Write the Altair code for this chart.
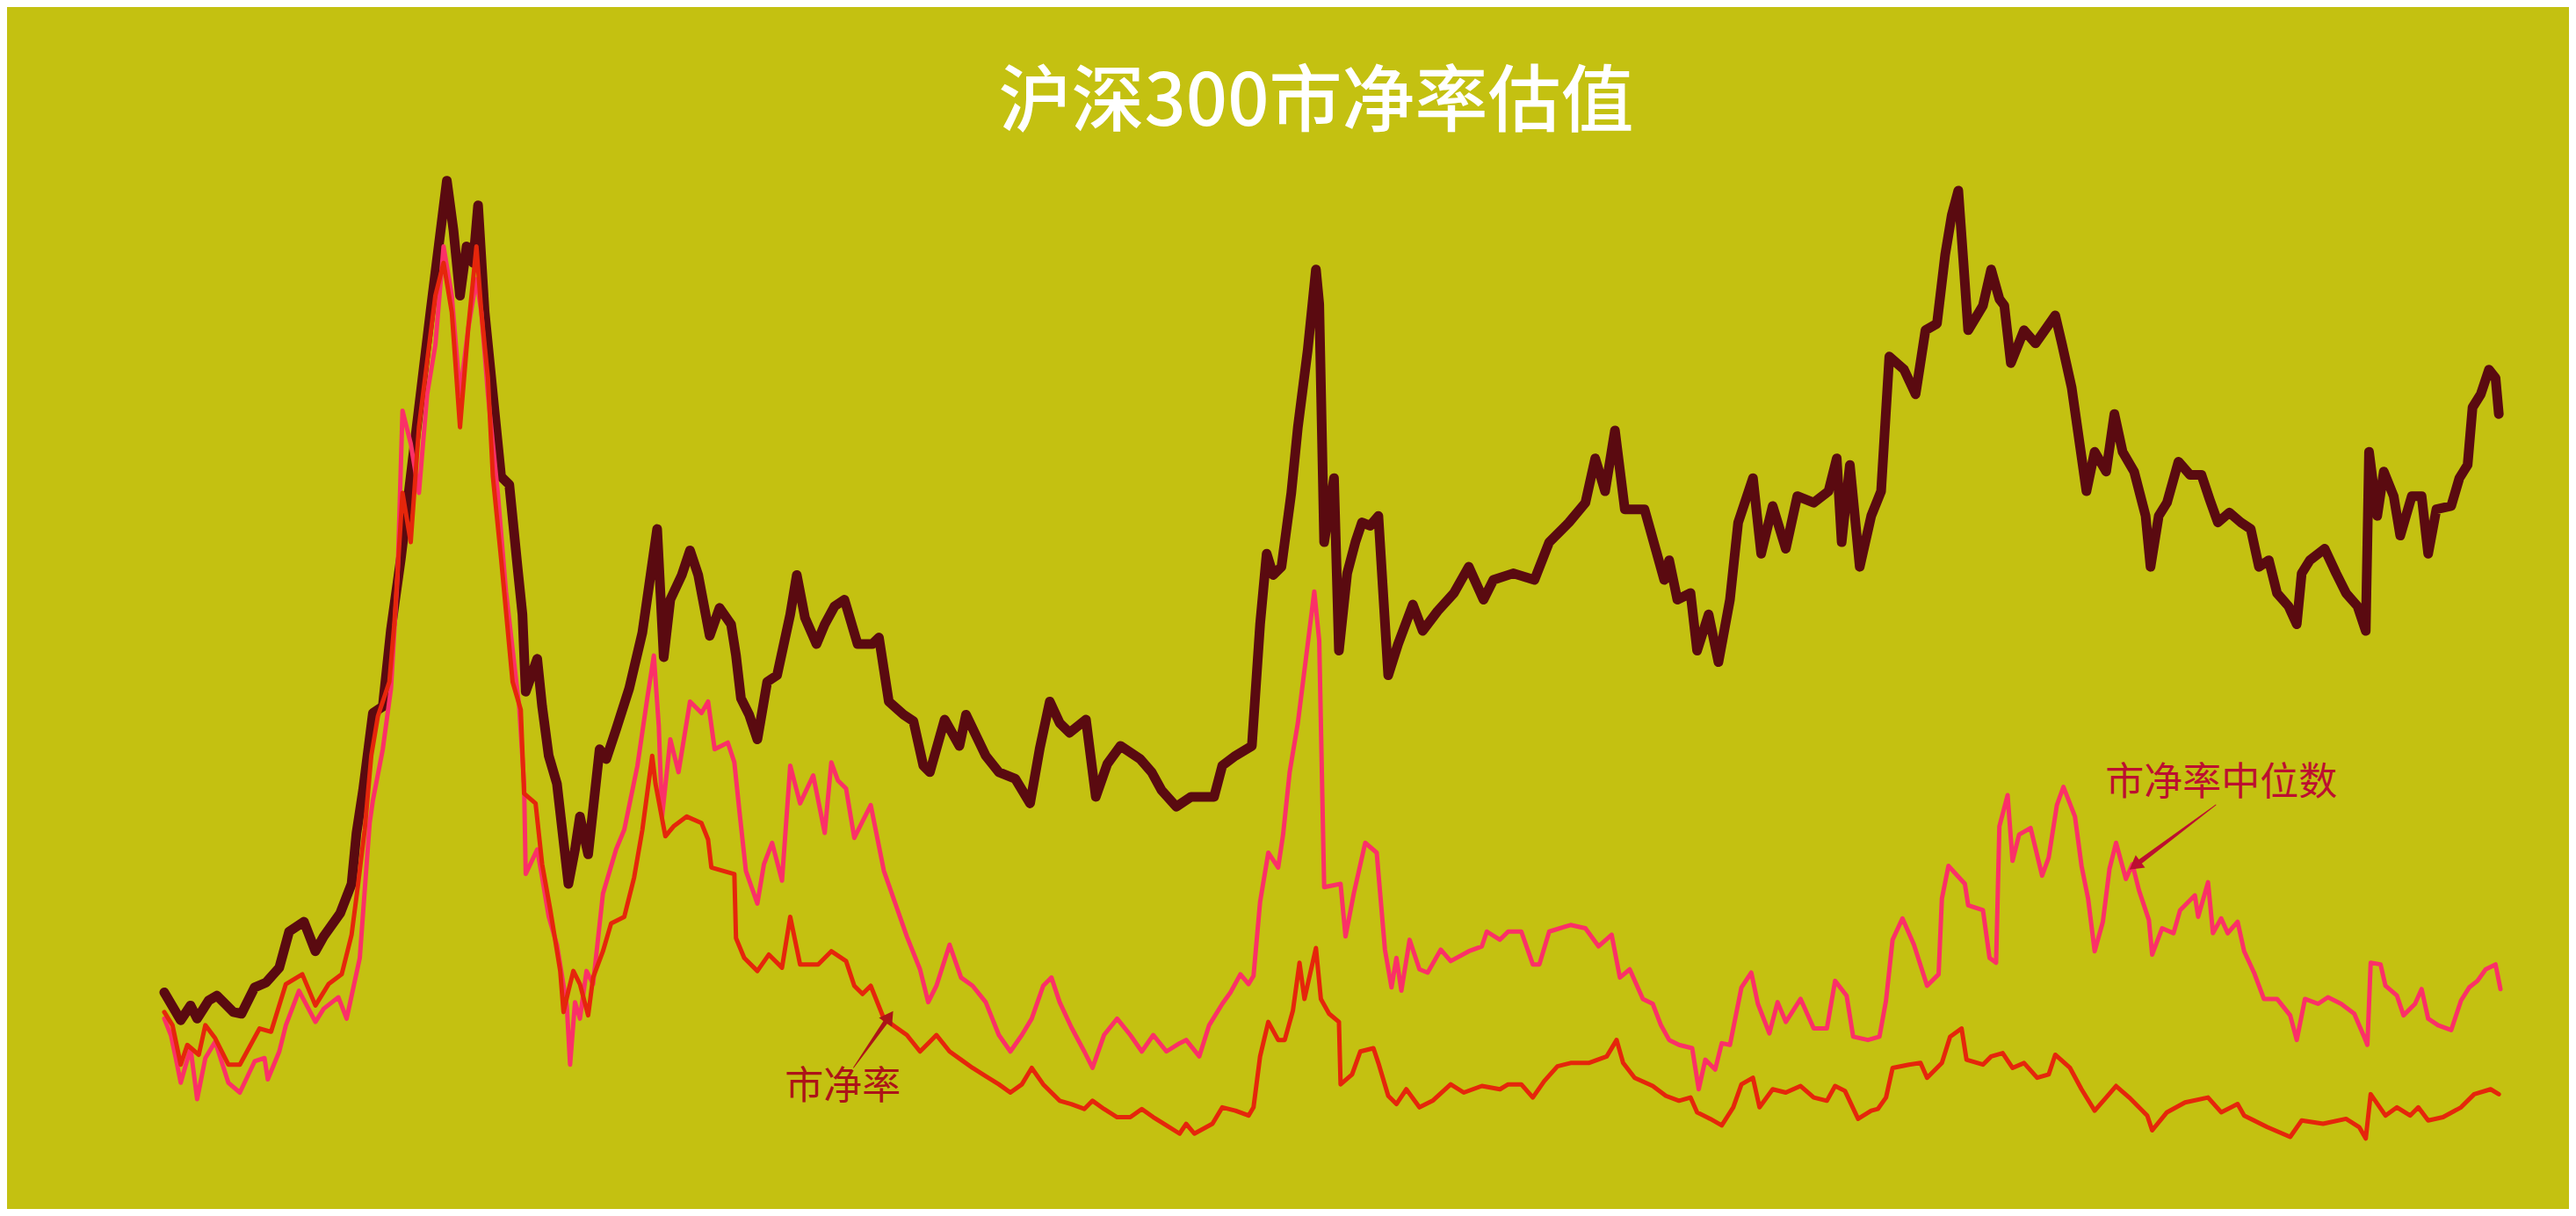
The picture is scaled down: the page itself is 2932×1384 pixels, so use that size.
import altair as alt
import pandas as pd

# ---- data: x = time step, y = screen-row reading (smaller = higher) ----
dark_pts = [(100,604),(110,621),(116,612),(120,620),(127,609),(132,606),(142,616),(147,617),(155,601),(162,598),(170,589),(176,567),(185,561),(192,579),(197,570),(207,556),(214,538),(217,507),(221,481),(227,434),(233,430),(238,383),(244,340),(250,290),(256,240),(262,190),(267,150),(272,110),(276,140),(280,180),(284,150),(288,160),(291,125),(295,190),(300,240),(305,290),(310,295),(315,345),(318,374),(320,421),(327,401),(330,430),(334,460),(339,477),(346,538),(350,517),(353,497),(358,520),(365,456),(369,462),(375,444),(383,419),(391,385),(396,350),(400,322),(404,400),(408,365),(415,350),(420,335),(425,350),(432,387),(438,370),(445,380),(448,399),(451,425),(456,435),(461,450),(467,415),(473,411),(481,374),(485,350),(490,376),(497,392),(502,380),(508,369),(514,365),(522,392),(531,392),(535,388),(541,427),(550,435),(556,439),(562,466),(566,470),(575,438),(584,454),(588,435),(600,460),(608,470),(618,474),(627,489),(633,455),(639,427),(645,440),(651,446),(661,438),(667,485),(674,465),(682,454),(688,458),(694,462),(701,470),(707,481),(716,491),(725,485),(739,485),(744,466),(752,460),(762,454),(767,380),(771,337),(775,350),(780,345),(786,300),(790,260),(796,213),(801,164),(803,185),(806,330),(812,291),(815,396),(820,349),(825,330),(829,318),(834,320),(839,314),(845,411),(851,392),(860,368),(866,384),(875,372),(885,361),(894,345),(903,365),(909,353),(921,349),(934,353),(943,330),(955,318),(965,306),(971,279),(977,299),(983,262),(989,310),(1001,310),(1008,335),(1013,353),(1016,341),(1021,365),(1029,361),(1033,396),(1040,374),(1046,403),(1053,365),(1058,318),(1067,291),(1072,337),(1079,308),(1087,334),(1094,302),(1104,306),(1113,299),(1118,279),(1121,330),(1126,283),(1132,345),(1139,314),(1145,299),(1150,217),(1159,225),(1166,240),(1172,201),(1179,197),(1184,155),(1188,131),(1192,116),(1195,158),(1198,201),(1207,186),(1212,164),(1217,182),(1220,186),(1224,221),(1232,201),(1239,209),(1251,192),(1255,209),(1261,236),(1266,271),(1270,299),(1275,275),(1282,287),(1287,252),(1292,275),(1299,287),(1306,314),(1309,345),(1314,314),(1319,306),(1326,281),(1333,289),(1340,289),(1345,304),(1350,318),(1357,312),(1364,318),(1370,322),(1375,345),(1381,341),(1386,361),(1393,369),(1398,380),(1401,349),(1406,341),(1415,334),(1422,349),(1428,361),(1435,369),(1440,384),(1442,275),(1447,314),(1451,287),(1457,302),(1461,326),(1468,302),(1474,302),(1478,337),(1483,310),(1492,308),(1497,291),(1502,283),(1505,248),(1510,240),(1515,225),(1519,230),(1521,252)]

pink_pts = [(100,620),(104,630),(107,644),(110,659),(116,638),(120,669),(125,644),(131,634),(139,659),(146,665),(155,646),(161,644),(163,657),(170,640),(174,624),(182,603),(192,622),(197,614),(206,607),(211,620),(219,583),(222,542),(225,501),(227,487),(233,456),(238,419),(242,350),(245,250),(250,270),(255,300),(260,240),(265,210),(270,150),(275,180),(280,240),(285,200),(290,170),(293,190),(297,240),(300,270),(303,300),(308,360),(312,395),(316,430),(319,477),(320,532),(327,517),(330,534),(334,558),(339,575),(345,612),(347,648),(350,610),(353,620),(357,591),(361,599),(367,544),(375,517),(380,505),(388,466),(394,425),(398,399),(401,442),(403,497),(408,450),(413,470),(420,427),(427,434),(431,427),(435,456),(443,452),(447,464),(450,493),(454,530),(461,550),(465,526),(470,513),(476,536),(481,466),(487,489),(495,472),(502,507),(506,464),(510,475),(515,480),(520,510),(525,500),(530,490),(538,530),(545,550),(552,570),(560,590),(565,610),(570,600),(578,575),(585,595),(592,600),(600,610),(608,630),(615,640),(622,630),(628,620),(635,600),(640,595),(645,610),(652,625),(660,640),(665,650),(672,630),(680,620),(688,630),(695,640),(702,630),(710,640),(718,635),(722,633),(730,643),(736,624),(744,611),(749,604),(755,593),(760,599),(763,594),(767,549),(772,519),(778,528),(781,508),(785,470),(790,440),(795,400),(800,360),(803,390),(806,540),(816,538),(819,570),(824,544),(831,513),(838,519),(839,531),(843,578),(847,601),(850,583),(853,603),(858,572),(864,590),(869,592),(877,578),(883,585),(894,579),(902,576),(905,567),(913,572),(918,567),(926,567),(933,587),(937,587),(943,567),(956,563),(965,565),(973,576),(981,569),(986,595),(992,590),(1000,608),(1006,611),(1011,624),(1016,633),(1022,636),(1030,638),(1034,663),(1038,645),(1044,651),(1048,635),(1053,636),(1060,601),(1066,592),(1070,611),(1077,629),(1082,610),(1087,622),(1096,608),(1104,626),(1112,626),(1117,597),(1124,606),(1128,631),(1137,633),(1144,631),(1148,609),(1152,572),(1158,559),(1165,575),(1173,600),(1180,593),(1182,547),(1186,527),(1196,538),(1198,551),(1207,554),(1211,583),(1215,586),(1217,503),(1222,484),(1225,524),(1229,508),(1236,504),(1243,533),(1247,522),(1252,490),(1256,479),(1263,497),(1267,527),(1271,547),(1275,579),(1280,561),(1284,529),(1288,513),(1294,535),(1298,526),(1302,542),(1308,560),(1310,581),(1316,565),(1323,568),(1327,554),(1336,545),(1338,558),(1344,537),(1347,568),(1352,559),(1356,568),(1362,561),(1366,579),(1372,592),(1378,608),(1386,608),(1394,618),(1398,633),(1403,608),(1411,611),(1417,607),(1425,611),(1433,617),(1439,631),(1441,636),(1443,586),(1449,587),(1452,600),(1459,606),(1463,618),(1470,611),(1474,602),(1478,620),(1484,624),(1492,627),(1498,609),(1503,601),(1508,597),(1513,590),(1519,587),(1522,602)]

red_pts = [(100,616),(105,624),(110,648),(114,636),(121,642),(125,624),(131,632),(139,648),(146,648),(158,626),(165,628),(174,599),(184,593),(192,612),(200,599),(208,593),(214,569),(218,538),(222,505),(226,460),(230,436),(237,415),(240,380),(245,300),(250,330),(255,260),(260,220),(265,180),(270,160),(275,190),(280,260),(285,200),(290,150),(293,190),(297,230),(300,290),(305,340),(312,415),(317,432),(319,483),(326,489),(330,526),(335,554),(341,591),(343,616),(346,603),(349,591),(353,599),(358,618),(361,595),(367,579),(372,562),(380,558),(386,534),(391,505),(397,460),(399,477),(405,509),(410,503),(418,497),(427,501),(431,511),(433,528),(440,530),(447,532),(448,571),(453,583),(461,591),(468,581),(476,589),(481,558),(487,587),(498,587),(506,579),(515,585),(520,600),(525,605),(530,600),(538,620),(545,625),(552,630),(560,640),(565,635),(570,630),(578,640),(585,645),(592,650),(600,655),(608,660),(615,665),(622,660),(628,650),(635,660),(640,665),(645,670),(652,672),(660,675),(665,670),(672,675),(680,680),(688,680),(695,675),(702,680),(710,685),(718,690),(722,684),(727,690),(738,684),(744,674),(752,676),(760,679),(763,674),(767,643),(772,622),(778,633),(782,633),(787,615),(791,586),(794,608),(801,577),(804,608),(809,617),(815,622),(816,660),(823,654),(828,640),(836,638),(839,647),(845,667),(850,672),(856,663),(864,674),(872,670),(883,660),(891,665),(902,661),(913,663),(918,660),(926,660),(933,668),(940,658),(948,649),(956,647),(967,647),(978,643),(984,633),(988,647),(995,656),(1006,661),(1014,667),(1022,670),(1029,668),(1033,677),(1041,681),(1048,685),(1055,674),(1060,660),(1067,656),(1071,674),(1079,663),(1087,665),(1096,661),(1104,668),(1112,670),(1117,661),(1123,664),(1131,681),(1139,676),(1143,675),(1148,668),(1152,650),(1162,648),(1169,647),(1173,656),(1182,647),(1187,631),(1194,626),(1197,645),(1207,648),(1212,643),(1219,641),(1225,650),(1232,647),(1240,656),(1247,654),(1251,642),(1260,650),(1267,663),(1275,676),(1282,668),(1288,661),(1296,668),(1307,679),(1310,688),(1319,677),(1330,671),(1344,668),(1352,677),(1362,672),(1366,679),(1380,686),(1394,692),(1401,682),(1414,684),(1428,681),(1436,686),(1440,693),(1443,666),(1452,679),(1459,674),(1467,679),(1472,674),(1478,682),(1487,680),(1498,674),(1506,666),(1516,663),(1521,666)]

series_names = ["沪深300市净率", "市净率中位数", "市净率"]
series_pts = [dark_pts, pink_pts, red_pts]

# annotation labels and arrows (time step, screen-row reading)
ann_text = ["市净率", "市净率中位数"]
ann_x = [513, 1352]
ann_row = [662, 477]
arrow_tail_x = [519.6, 1348.7]
arrow_tail_row = [649.8, 489.9]
arrow_head_x = [541.3, 1299.5]
arrow_head_row = [618.8, 526.8]
arrow_angle = [34.6, 233.1]
ann_colors = ["#AC1418", "#BC0F30"]

TOP_ROW = 740


def level(row):
    return TOP_ROW - row


BG = "#C4C111"
COLORS = {"沪深300市净率": "#5A0A10", "市净率中位数": "#FB3068", "市净率": "#E5260B"}
WIDTHS = {"沪深300市净率": 11, "市净率中位数": 5, "市净率": 5}

xs = alt.Scale(domain=[4.28, 1563.7], nice=False, zero=False)
ys = alt.Scale(domain=[4.14, 643.74], nice=False, zero=False)
X = lambda f: alt.X(f, scale=xs, axis=None)
Y = lambda f: alt.Y(f, scale=ys, axis=None)

layers = []
for name, pts in zip(series_names, series_pts):
    df = pd.DataFrame({"t": [p[0] for p in pts], "v": [level(p[1]) for p in pts],
                       "o": list(range(len(pts)))})
    layers.append(
        alt.Chart(df).mark_line(color=COLORS[name], strokeWidth=WIDTHS[name],
                                strokeJoin="round", strokeCap="round", clip=False)
        .encode(x=X("t:Q"), y=Y("v:Q"), order="o:Q")
    )

ann_df = pd.DataFrame({"label": ann_text, "t": ann_x, "v": [level(r) for r in ann_row],
                       "c": ann_colors})
text_layer = alt.Chart(ann_df).mark_text(
    font="Noto Sans CJK SC", fontSize=44, align="center", baseline="middle"
).encode(x=X("t:Q"), y=Y("v:Q"), text="label:N", color=alt.Color("c:N", scale=None))

trail_rows = []
for i in range(len(arrow_tail_x)):
    trail_rows.append({"id": i, "t": arrow_tail_x[i], "v": level(arrow_tail_row[i]), "w": 1, "o": 0, "c": ann_colors[i]})
    trail_rows.append({"id": i, "t": arrow_head_x[i], "v": level(arrow_head_row[i]), "w": 6, "o": 1, "c": ann_colors[i]})
trail_df = pd.DataFrame(trail_rows)
trail_layer = alt.Chart(trail_df).mark_trail().encode(
    x=X("t:Q"), y=Y("v:Q"),
    size=alt.Size("w:Q", scale=alt.Scale(domain=[1, 6], range=[1, 6]), legend=None),
    color=alt.Color("c:N", scale=None),
    detail="id:N", order="o:Q")

head_df = pd.DataFrame({"t": arrow_head_x, "v": [level(r) for r in arrow_head_row],
                        "a": arrow_angle, "c": ann_colors})
head_layer = alt.Chart(head_df).mark_point(shape="triangle-up", filled=True, size=320,
                                           opacity=1).encode(
    x=X("t:Q"), y=Y("v:Q"), angle=alt.Angle("a:Q", scale=None),
    color=alt.Color("c:N", scale=None))

chart = alt.layer(*layers, trail_layer, head_layer, text_layer).properties(
    width=2916, height=1196,
    autosize=alt.AutoSizeParams(type="none"),
    padding={"left": 0, "right": 0, "top": 172, "bottom": 0},
    background=BG,
    title=alt.TitleParams("沪深300市净率估值", font="Noto Sans CJK SC", fontSize=83,
                          fontWeight=500, color="white", anchor="middle", offset=-21,
                          dx=32, baseline="middle", frame="group"),
).configure_view(stroke=None)

chart.save("out.html", embed_options={"renderer": "svg", "actions": False})
